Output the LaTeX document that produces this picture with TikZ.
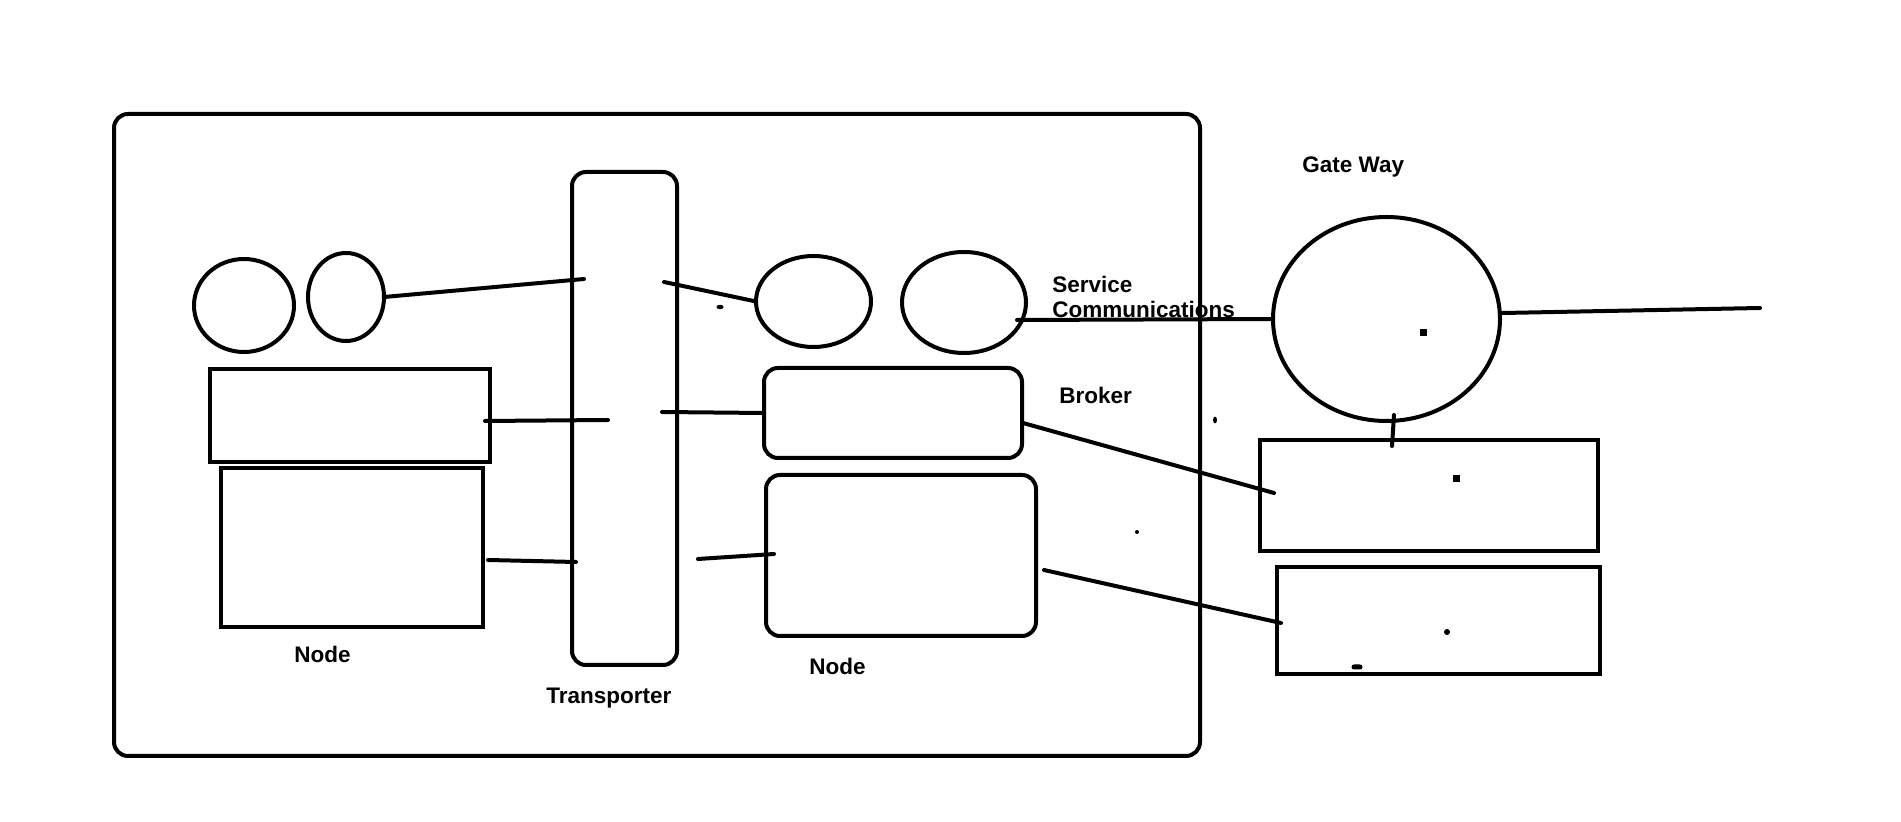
\documentclass[tikz,border=0pt]{standalone}
\usepackage{fontspec}
\setmainfont{Liberation Sans}
\usetikzlibrary{shapes.geometric}

\begin{document}
\begin{tikzpicture}[line cap=round,line join=round,x=0.5pt,y=-0.5pt,
	roundbox/.style={draw,line width=2pt,rounded corners=7pt,inner sep=0pt,outer sep=0pt},
	plainbox/.style={draw,line width=2pt,line join=miter,inner sep=0pt,outer sep=0pt},
	blob/.style={draw,ellipse,line width=2pt,inner sep=0pt,outer sep=0pt},
	wire/.style={line width=2pt},
	lbl/.style={anchor=base west,inner sep=0pt,font=\fontsize{11.25}{13.5}\selectfont\bfseries}]
			\useasboundingbox (0,0) rectangle (1901,822);
			% cluster frame and transporter
			\node [roundbox,minimum width=543pt,minimum height=321pt] (frame) at (657,435) {};
			\node [roundbox,minimum width=52.5pt,minimum height=246.5pt] (trans) at (624.5,418.5) {};
			% left node
			\node [blob,minimum width=50pt,minimum height=46.5pt] (ellA) at (244,305.5) {};
			\node [blob,minimum width=38pt,minimum height=44pt] (ellB) at (346,297) {};
			\node [plainbox,minimum width=140pt,minimum height=46.5pt] (boxA) at (350,415.5) {};
			\node [plainbox,minimum width=131pt,minimum height=79.5pt] (boxB) at (352,547.5) {};
			% right node
			\node [blob,minimum width=57.5pt,minimum height=45.5pt] (ellC) at (813.5,301.5) {};
			\node [blob,minimum width=62pt,minimum height=50.5pt] (ellD) at (964,302.5) {};
			\node [roundbox,minimum width=129pt,minimum height=45pt] (broker) at (893,413) {};
			\node [roundbox,minimum width=135pt,minimum height=80.5pt] (boxC) at (901,555.5) {};
			% gateway
			\node [blob,minimum width=113.5pt,minimum height=102pt] (gate) at (1386.5,319) {};
			\node [plainbox,minimum width=169pt,minimum height=55.5pt] (gateA) at (1429,495.5) {};
			\node [plainbox,minimum width=161.5pt,minimum height=53.5pt] (gateB) at (1438.5,620.5) {};
			% wire ends
			\coordinate (tA) at (584,279);
			\coordinate (tB1) at (485,421);
			\coordinate (tB2) at (608,420);
			\coordinate (tC1) at (488,560);
			\coordinate (tC2) at (576,562);
			\coordinate (tD) at (664,282);
			\coordinate (tE) at (662,412);
			\coordinate (tF1) at (698,559);
			\coordinate (tF2) at (774,554);
			\coordinate (sc) at (1017,320);
			\coordinate (out) at (1760,308);
			\coordinate (bk1) at (1023,423);
			\coordinate (bk2) at (1274,493);
			\coordinate (nd1) at (1044,570);
			\coordinate (nd2) at (1281,623);
			\coordinate (gw1) at (1394,415);
			\coordinate (gw2) at (1392,446);
			\draw [wire] (ellB.east) -- (tA);
			\draw [wire] (tB1) -- (tB2);
			\draw [wire] (tC1) -- (tC2);
			\draw [wire] (tD) -- (ellC.west);
			\draw [wire] (tE) -- (broker.west);
			\draw [wire] (tF1) -- (tF2);
			\draw [wire] (sc) -- (gate.west);
			\draw [wire] (gate.3) -- (out);
			\draw [wire] (bk1) -- (bk2);
			\draw [wire] (nd1) -- (nd2);
			\draw [wire] (gw1) -- (gw2);
			% specks
			\fill (720,307) ellipse [x radius=1.8pt,y radius=1.1pt];
			\fill (1137,532) circle (1pt);
			\fill (1215,420) ellipse [x radius=1pt,y radius=1.7pt];
			\fill (1419.5,329.5) rectangle +(7,7);
			\fill (1452.5,475.5) rectangle +(7,7);
			\fill (1447,632) circle (1.5pt);
			\fill [rounded corners=1.2pt] (1351.5,664.5) rectangle +(11,5);
			% labels
			\node [lbl] (lblGate) at (1302,173) {Gate Way};
			\node [lbl] (lblServ) at (1052,293) {Service};
			\node [lbl] (lblComm) at (1052,318) {Communications};
			\node [lbl] (lblBroker) at (1059,404) {Broker};
			\node [lbl] (lblNodeA) at (294,663) {Node};
			\node [lbl] (lblTrans) at (546,704) {Transporter};
			\node [lbl] (lblNodeB) at (809,675) {Node};
\end{tikzpicture}
\end{document}
